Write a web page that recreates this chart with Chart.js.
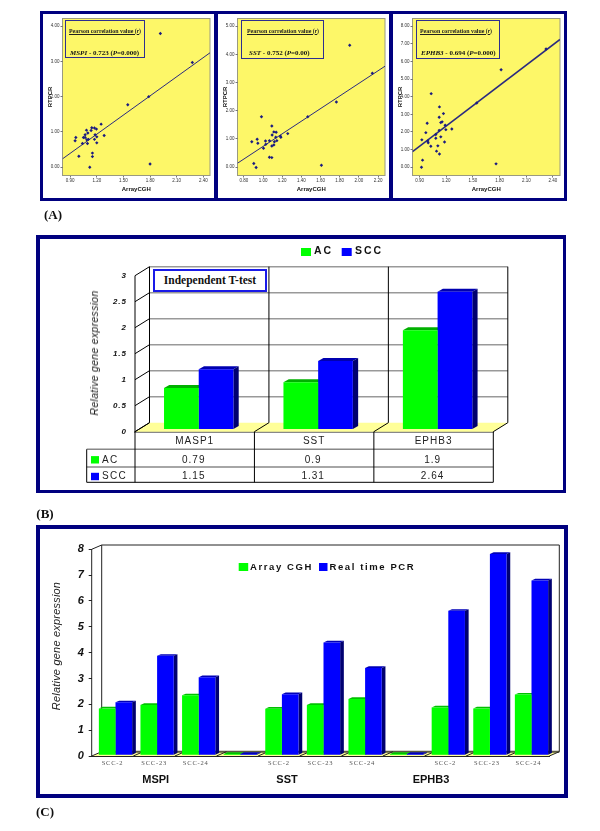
<!DOCTYPE html>
<html>
<head>
<meta charset="utf-8">
<title>Gene expression figure</title>
<script src="https://cdn.jsdelivr.net/npm/chart.js@4"></script>
<style>
  html, body { margin: 0; padding: 0; background: #fff; }
  #page { position: relative; width: 600px; height: 831px; overflow: hidden; }
  #page canvas { position: absolute; left: 0; top: 0; }
  .frame { position: absolute; background: #00007f; }
  .txt { position: absolute; white-space: nowrap; }
  .corrBox { position: absolute; border: 1.5px solid #2e2e90; box-sizing: border-box; }
</style>
</head>
<body>
<div id="page"></div>
<script>
// Panel A: scatter values [ArrayCGH, RTPCR]
const mspiPoints = [[1.916,3.79],[2.276,2.97],[1.785,2.0],[1.549,1.77],[1.8,0.09],[1.249,1.22],[1.283,0.9],[1.2,0.69],[1.196,1.08],[1.174,1.11],[1.144,1.12],[1.136,1.04],[1.099,0.97],[1.084,1.05],[1.069,0.92],[1.069,0.84],[1.05,0.84],[0.964,0.84],[0.956,0.75],[1.039,0.67],[1.095,0.67],[1.088,0.78],[1.106,0.79],[1.174,0.79],[1.181,0.92],[1.2,0.86],[1.151,0.4],[1.151,0.3],[0.998,0.31],[1.121,0.0]];
const sstPoints = [[1.904,4.32],[2.14,3.33],[1.765,2.31],[1.467,1.79],[1.609,0.07],[0.984,1.79],[1.092,1.46],[1.095,1.14],[1.113,1.25],[1.137,1.24],[1.258,1.19],[1.182,1.1],[1.186,1.06],[1.133,1.06],[1.144,0.94],[1.119,0.9],[1.113,0.79],[1.092,0.75],[1.067,0.94],[1.026,0.93],[1.029,0.81],[1.005,0.67],[0.939,0.99],[0.946,0.85],[0.883,0.9],[1.067,0.35],[1.092,0.34],[0.904,0.13],[0.928,-0.01]];
const ephb3Points = [[2.322,6.7],[1.817,5.53],[1.543,3.64],[1.76,0.19],[1.031,4.17],[1.124,3.42],[1.169,3.04],[1.121,2.83],[0.986,2.49],[1.154,2.57],[1.139,2.53],[1.188,2.38],[1.196,2.13],[1.263,2.17],[1.121,2.09],[0.971,1.96],[1.083,1.85],[1.139,1.72],[1.083,1.64],[1.181,1.43],[0.926,1.55],[0.994,1.49],[0.997,1.38],[1.027,1.19],[1.106,1.21],[1.091,0.91],[1.124,0.75],[0.934,0.4],[0.922,0.0]];
const mspiFit = [[0.814,0.236],[2.475,3.245]];
const sstFit = [[0.734,0.14],[2.272,3.58]];
const ephb3Fit = [[0.821,0.887],[2.479,7.245]];

const mspiXTicks = [0.9,1.2,1.5,1.8,2.1,2.4];
const mspiYTicks = [0,1,2,3,4];
const sstXTicks = [0.8,1.0,1.2,1.4,1.6,1.8,2.0,2.2];
const sstYTicks = [0,1,2,3,4,5];
const ephb3XTicks = [0.9,1.2,1.5,1.8,2.1,2.4];
const ephb3YTicks = [0,1,2,3,4,5,6,7,8];

const corrGenes = ['MSPI','SST','EPHB3'];
const corrValues = ['0.723','0.752','0.694'];
const corrP = ['0.000','0.00','0.000'];

// Panel B
const tCategories = ['MASP1','SST','EPHB3'];
const tAC = [0.79,0.9,1.9];
const tSCC = [1.15,1.31,2.64];
const tTicks = [0,0.5,1,1.5,2,2.5,3];

// Panel C
const cCategories = ['SCC-2','SCC-23','SCC-24','','SCC-2','SCC-23','SCC-24','','SCC-2','SCC-23','SCC-24'];
const cArray = [1.81,1.95,2.32,0.05,1.8,1.95,2.18,0.05,1.85,1.81,2.35];
const cReal = [2.05,3.85,3.02,0.05,2.36,4.37,3.38,0.05,5.59,7.79,6.77];
const cTicks = [0,1,2,3,4,5,6,7,8];
const cGroups = ['MSPI','SST','EPHB3'];

const GREEN = '#00ff00', BLUE = '#0000ff', NAVY = '#00007f', FLOOR = '#ffff99', YELLOW = '#fdf768';
const SANS = '"Liberation Sans", Arial, sans-serif';
const SERIF = '"Liberation Serif", "Times New Roman", serif';

Chart.defaults.animation = false;
Chart.defaults.responsive = false;
Chart.defaults.devicePixelRatio = 1;

const page = document.getElementById('page');

function frame(l, t, r, b) {
    const d = document.createElement('div');
    d.className = 'frame';
    d.style.cssText = `left:${l}px;top:${t}px;width:${r-l}px;height:${b-t}px`;
    page.appendChild(d);
}

function label(text, x, y, css, rotate) {
    const d = document.createElement('div');
    d.className = 'txt';
    d.textContent = text;
    const rot = rotate ? ` rotate(${rotate}deg)` : '';
    d.style.cssText = `left:${x}px;top:${y}px;transform:translate(-50%,-50%)${rot};z-index:5;${css}`;
    page.appendChild(d);
    return d;
}

// every canvas covers the whole page, so the chart area is given in page pixels
function newCanvas() {
    const c = document.createElement('canvas');
    c.width = 600;
    c.height = 831;
    page.appendChild(c);
    return c.getContext('2d');
}

function layoutFor(box, axisW, axisH) {
    return { padding: { left: box.l - axisW, right: 600 - box.r, top: box.t, bottom: 831 - box.b - axisH } };
}

// Frames
frame(40,11,567,14); frame(40,197.5,567,200.5); frame(40,11,43,200.5);
frame(213.5,11,217.5,200.5); frame(388.5,11,392.5,200.5); frame(563.5,11,567,200.5);
frame(36,235,566,239); frame(36,489.5,566,493); frame(36,235,40,493); frame(562.5,235,566,493);
frame(36,525,568,529); frame(36,794,568,798); frame(36,525,40,798); frame(564,525,568,798);

// yellow plot background with a grey edge
const plotBox = {
    id: 'plotBox',
    beforeDraw(chart) {
        const a = chart.chartArea, ctx = chart.ctx;
        ctx.save();
        ctx.fillStyle = YELLOW;
        ctx.fillRect(a.left, a.top, a.width, a.height);
        ctx.strokeStyle = '#9a9a80';
        ctx.lineWidth = 1;
        ctx.strokeRect(a.left, a.top, a.width, a.height);
        ctx.restore();
    }
};

function scatterChart(points, fit, xTicks, yTicks, xr, yr, box, lineW) {
    const tickFont = { family: SANS, size: 4.5 };
    const titleFont = { family: SANS, size: 6, weight: 'bold' };
    new Chart(newCanvas(), {
        type: 'scatter',
        data: {
            datasets: [
                { label: 'RTPCR', data: points.map(p => ({x: p[0], y: p[1]})), pointStyle: 'rectRot', pointRadius: 1.7, backgroundColor: '#1b1b80', borderWidth: 0 },
                { label: 'Fit', data: fit.map(p => ({x: p[0], y: p[1]})), showLine: true, pointRadius: 0, borderColor: '#2a2a80', borderWidth: lineW }
            ]
        },
        options: {
            layout: layoutFor(box, 16, 17),
            plugins: { legend: { display: false }, tooltip: { enabled: false } },
            scales: {
                x: {
                    min: xr[0], max: xr[1],
                    afterBuildTicks(s) { s.ticks = xTicks.map(v => ({value: v})); },
                    afterFit(s) { s.height = 17; },
                    grid: { drawOnChartArea: false, tickLength: 2, color: '#777' },
                    border: { display: false },
                    ticks: { font: tickFont, color: '#333', padding: 1, maxRotation: 0, autoSkip: false, callback: v => v.toFixed(2) },
                    title: { display: true, text: 'ArrayCGH', font: titleFont, color: '#111', padding: 0 }
                },
                y: {
                    min: yr[0], max: yr[1],
                    afterBuildTicks(s) { s.ticks = yTicks.map(v => ({value: v})); },
                    afterFit(s) { s.width = 16; },
                    grid: { drawOnChartArea: false, tickLength: 2, color: '#777' },
                    border: { display: false },
                    ticks: { font: tickFont, color: '#333', padding: 1, autoSkip: false, callback: v => v.toFixed(2) },
                    title: { display: true, text: 'RTPCR', font: titleFont, color: '#111', padding: 0 }
                }
            }
        },
        plugins: [plotBox]
    });
}

scatterChart(mspiPoints, mspiFit, mspiXTicks, mspiYTicks, [0.814,2.475], [-0.236,4.217], {l:62.5,r:210,t:18.5,b:175.5}, 1);
scatterChart(sstPoints, sstFit, sstXTicks, sstYTicks, [0.734,2.272], [-0.295,5.271], {l:237.5,r:385,t:18.5,b:175.5}, 1);
scatterChart(ephb3Points, ephb3Fit, ephb3XTicks, ephb3YTicks, [0.821,2.479], [-0.472,8.434], {l:412.5,r:560,t:18.5,b:175.5}, 1.5);

// correlation boxes
const corrBoxes = [
    {l:65, t:20, w:80, h:38, x1:69, x2:70},
    {l:241, t:20, w:83, h:39, x1:247, x2:249},
    {l:416, t:20, w:83.5, h:38.5, x1:420, x2:421}
];
corrBoxes.forEach((b, i) => {
    const d = document.createElement('div');
    d.className = 'corrBox';
    d.style.cssText = `left:${b.l}px;top:${b.t}px;width:${b.w}px;height:${b.h}px;z-index:4`;
    page.appendChild(d);
    const a = document.createElement('div');
    a.className = 'txt';
    a.style.cssText = `left:${b.x1}px;top:27.5px;font:bold 5.9px ${SERIF};color:#222;text-decoration:underline;z-index:5`;
    a.innerHTML = 'Pearson correlation value (<i>r</i>)';
    page.appendChild(a);
    const v = document.createElement('div');
    v.className = 'txt';
    v.style.cssText = `left:${b.x2}px;top:49px;font:bold 7px ${SERIF};color:#111;z-index:5`;
    v.innerHTML = `<i>${corrGenes[i]}</i> - ${corrValues[i]} (<i>P</i>=${corrP[i]})`;
    page.appendChild(v);
});

// front, top and side faces of the extruded bars. Shift moves the bars off the front axis
const bars3d = {
    id: 'bars3d',
    beforeDatasetsDraw(chart, args, o) {
        const ctx = chart.ctx;
        ctx.save();
        ctx.translate(o.shiftX, o.shiftY);
        chart.data.datasets.forEach((ds, i) => {
            chart.getDatasetMeta(i).data.forEach(bar => {
                const r = bar.x + bar.width / 2, l = bar.x - bar.width / 2;
                ctx.fillStyle = i === 0 ? o.greenTop : o.blueTop;
                ctx.beginPath();
                ctx.moveTo(l, bar.y);
                ctx.lineTo(l + o.sideX, bar.y - o.sideY);
                ctx.lineTo(r + o.sideX, bar.y - o.sideY);
                ctx.lineTo(r, bar.y);
                ctx.fill();
                ctx.fillStyle = i === 0 ? o.greenSide : o.blueSide;
                ctx.beginPath();
                ctx.moveTo(r, bar.y);
                ctx.lineTo(r + o.sideX, bar.y - o.sideY);
                ctx.lineTo(r + o.sideX, bar.base - o.sideY);
                ctx.lineTo(r, bar.base);
                ctx.fill();
            });
        });
    },
    afterDatasetsDraw(chart) {
        chart.ctx.restore();
    }
};

function seg(ctx, x1, y1, x2, y2, color, w) {
    ctx.strokeStyle = color;
    ctx.lineWidth = w;
    ctx.beginPath();
    ctx.moveTo(x1, y1);
    ctx.lineTo(x2, y2);
    ctx.stroke();
}

function floor(ctx, a, dx, dy) {
    ctx.fillStyle = FLOOR;
    ctx.beginPath();
    ctx.moveTo(a.left, a.bottom);
    ctx.lineTo(a.left + dx, a.bottom + dy);
    ctx.lineTo(a.right + dx, a.bottom + dy);
    ctx.lineTo(a.right, a.bottom);
    ctx.fill();
}

// Panel B
const DX_B = 14.5, DY_B = -9;
const wallB = {
    id: 'wallB',
    beforeDraw(chart) {
        chart.ctx.letterSpacing = '1px';
    },
    beforeDatasetsDraw(chart) {
        const ctx = chart.ctx, a = chart.chartArea, y = chart.scales.y;
        const step = a.width / tCategories.length;
        ctx.save();
        floor(ctx, a, DX_B, DY_B);
        tTicks.forEach(v => {
            const py = y.getPixelForValue(v);
            if (v > 0) seg(ctx, a.left + DX_B, py + DY_B, a.right + DX_B, py + DY_B, '#999', 1.5);
            seg(ctx, a.left, py, a.left + DX_B, py + DY_B, '#000', 1);
        });
        for (let i = 0; i <= tCategories.length; i++) {
            const px = a.left + i * step;
            seg(ctx, px + DX_B, a.bottom + DY_B, px + DX_B, a.top + DY_B, '#000', 1);
            seg(ctx, px, a.bottom, px + DX_B, a.bottom + DY_B, '#000', 1);
        }
        seg(ctx, a.left, a.bottom, a.left, a.top, '#000', 1);
        ctx.restore();
    },
    afterDraw(chart) {
        // data table under the axis, filled from the same arrays as the bars
        const ctx = chart.ctx, a = chart.chartArea;
        const step = a.width / tCategories.length;
        const tableLeft = 86.7, row1 = 449.3, row2 = 467, row3 = 482.3;
        const rows = [
            { name: chart.data.datasets[0].label, values: tAC, color: GREEN, mid: 459.8 },
            { name: chart.data.datasets[1].label, values: tSCC, color: BLUE, mid: 476.5 }
        ];
        ctx.save();
        seg(ctx, tableLeft, row1, a.right, row1, '#888', 1.5);
        seg(ctx, tableLeft, row2, a.right, row2, '#888', 1.5);
        seg(ctx, tableLeft, row3, a.right, row3, '#000', 1);
        seg(ctx, tableLeft, row1, tableLeft, row3, '#000', 1);
        for (let i = 0; i <= tCategories.length; i++) {
            const px = a.left + i * step;
            seg(ctx, px, a.bottom, px, row3, '#000', 1);
        }
        ctx.font = '10px ' + SANS;
        ctx.textBaseline = 'middle';
        rows.forEach(r => {
            ctx.fillStyle = r.color;
            ctx.fillRect(91, r.mid - 3.7, 8, 7.4);
            ctx.fillStyle = '#222';
            ctx.textAlign = 'left';
            ctx.letterSpacing = '1.3px';
            ctx.fillText(r.name, 102, r.mid);
            ctx.textAlign = 'center';
            ctx.letterSpacing = '1px';
            r.values.forEach((v, i) => ctx.fillText(String(v), chart.scales.x.getPixelForValue(i) - 1, r.mid));
        });
        // legend
        ctx.font = 'bold 10.5px ' + SANS;
        ctx.textAlign = 'left';
        ctx.letterSpacing = '2px';
        ctx.fillStyle = GREEN;
        ctx.fillRect(301, 248, 10, 8);
        ctx.fillStyle = '#111';
        ctx.fillText(rows[0].name, 314, 251.5);
        ctx.fillStyle = BLUE;
        ctx.fillRect(341.7, 248, 10, 8);
        ctx.fillStyle = '#111';
        ctx.fillText(rows[1].name, 355, 251.5);
        ctx.restore();
    }
};

const boxB = {l:135, r:493.3, t:275.7, b:431.7};
new Chart(newCanvas(), {
    type: 'bar',
    data: {
        labels: tCategories,
        datasets: [
            { label: 'AC', data: tAC, backgroundColor: GREEN, clip: false },
            { label: 'SCC', data: tSCC, backgroundColor: BLUE, clip: false }
        ]
    },
    options: {
        layout: layoutFor(boxB, 30, 18),
        categoryPercentage: 0.581,
        barPercentage: 1,
        plugins: {
            legend: { display: false },
            tooltip: { enabled: false },
            bars3d: { shiftX: 4, shiftY: -2.7, sideX: 5.3, sideY: 3, greenTop: '#00b000', greenSide: '#00a000', blueTop: '#0000b0', blueSide: '#000070' }
        },
        scales: {
            x: {
                afterFit(s) { s.height = 18; },
                grid: { display: false, drawTicks: false },
                border: { color: '#888', width: 2 },
                ticks: { font: { family: SANS, size: 10 }, color: '#222', padding: 4, maxRotation: 0 }
            },
            y: {
                min: 0, max: 3,
                afterBuildTicks(s) { s.ticks = tTicks.map(v => ({value: v})); },
                afterFit(s) { s.width = 30; },
                grid: { display: false, drawTicks: false },
                border: { display: false },
                ticks: { font: { family: SANS, size: 8, style: 'italic', weight: 'bold' }, color: '#111', padding: 8, autoSkip: false, callback: v => String(v) }
            }
        }
    },
    plugins: [wallB, bars3d]
});

// Panel C
const DX_C = 10, DY_C = -4.3;
const wallC = {
    id: 'wallC',
    beforeDraw(chart) {
        chart.ctx.letterSpacing = '0.8px';
    },
    beforeDatasetsDraw(chart) {
        const ctx = chart.ctx, a = chart.chartArea;
        const step = a.width / cCategories.length;
        ctx.save();
        floor(ctx, a, DX_C, DY_C);
        seg(ctx, a.left + DX_C, a.bottom + DY_C, a.right + DX_C, a.bottom + DY_C, '#5a5a40', 2);
        seg(ctx, a.left + DX_C, a.top + DY_C, a.right + DX_C, a.top + DY_C, '#222', 1);
        seg(ctx, a.left + DX_C, a.top + DY_C, a.left + DX_C, a.bottom + DY_C, '#222', 1);
        seg(ctx, a.right + DX_C, a.top + DY_C, a.right + DX_C, a.bottom + DY_C, '#222', 1);
        seg(ctx, a.left, a.top, a.left + DX_C, a.top + DY_C, '#222', 1);
        for (let i = 0; i <= cCategories.length; i++) {
            const px = a.left + i * step;
            seg(ctx, px, a.bottom, px + DX_C, a.bottom + DY_C, '#222', 1);
        }
        seg(ctx, a.left, a.top, a.left, a.bottom, '#222', 1);
        ctx.restore();
    },
    afterDraw(chart) {
        const ctx = chart.ctx;
        const ds = chart.data.datasets;
        ctx.save();
        ctx.font = 'bold 9.5px ' + SANS;
        ctx.textBaseline = 'middle';
        ctx.letterSpacing = '1.6px';
        ctx.fillStyle = GREEN;
        ctx.fillRect(238.7, 563, 9.5, 8);
        ctx.fillStyle = '#111';
        ctx.fillText(ds[0].label, 250, 567);
        ctx.fillStyle = BLUE;
        ctx.fillRect(319, 563, 8.5, 8);
        ctx.fillStyle = '#111';
        ctx.fillText(ds[1].label, 329.5, 567);
        ctx.restore();
    }
};

const boxC = {l:91.7, r:549.3, t:549.3, b:756};
new Chart(newCanvas(), {
    type: 'bar',
    data: {
        labels: cCategories,
        datasets: [
            { label: 'Array CGH', data: cArray, backgroundColor: GREEN, clip: false },
            { label: 'Real time PCR', data: cReal, backgroundColor: BLUE, clip: false }
        ]
    },
    options: {
        layout: layoutFor(boxC, 30, 14),
        categoryPercentage: 0.8,
        barPercentage: 1,
        plugins: {
            legend: { display: false },
            tooltip: { enabled: false },
            bars3d: { shiftX: 3, shiftY: -0.7, sideX: 3.7, sideY: 1.7, greenTop: '#00c000', greenSide: '#00a000', blueTop: '#0000b8', blueSide: '#000070' }
        },
        scales: {
            x: {
                afterFit(s) { s.height = 14; },
                grid: { display: false, drawTicks: false },
                border: { color: '#222', width: 1 },
                ticks: { font: { family: SERIF, size: 6.5 }, color: '#555', padding: 3.5, maxRotation: 0, autoSkip: false }
            },
            y: {
                min: 0, max: 8,
                afterBuildTicks(s) { s.ticks = cTicks.map(v => ({value: v})); },
                afterFit(s) { s.width = 30; },
                grid: { drawOnChartArea: false, tickLength: 3, color: '#222' },
                border: { display: false },
                ticks: { font: { family: SANS, size: 11, style: 'italic', weight: 'bold' }, color: '#111', padding: 4, autoSkip: false }
            }
        }
    },
    plugins: [wallC, bars3d]
});

label('Relative gene expression', 94, 353.3, `font:italic 10.5px ${SANS};letter-spacing:0.3px;color:#222`, -90);
label('Relative gene expression', 56, 645.7, `font:italic 11px ${SANS};letter-spacing:0.2px;color:#222`, -90);
[155.7, 287, 431].forEach((x, i) => label(cGroups[i], x, 779, `font:bold 11px ${SANS};color:#111`));

// Independent T-test box
const tBox = document.createElement('div');
tBox.className = 'txt';
tBox.textContent = 'Independent T-test';
tBox.style.cssText = `left:152.7px;top:269px;width:114.6px;height:22.7px;box-sizing:border-box;border:2px solid #1a1ae8;background:#fff;text-align:center;font:bold 11.5px/19px ${SERIF};color:#111;z-index:5`;
page.appendChild(tBox);

// Panel letters
label('(A)', 53, 215, `font:bold 13px ${SERIF};color:#111`);
label('(B)', 45, 514, `font:bold 13px ${SERIF};color:#111`);
label('(C)', 45, 811.5, `font:bold 13px ${SERIF};color:#111`);
</script>
</body>
</html>
